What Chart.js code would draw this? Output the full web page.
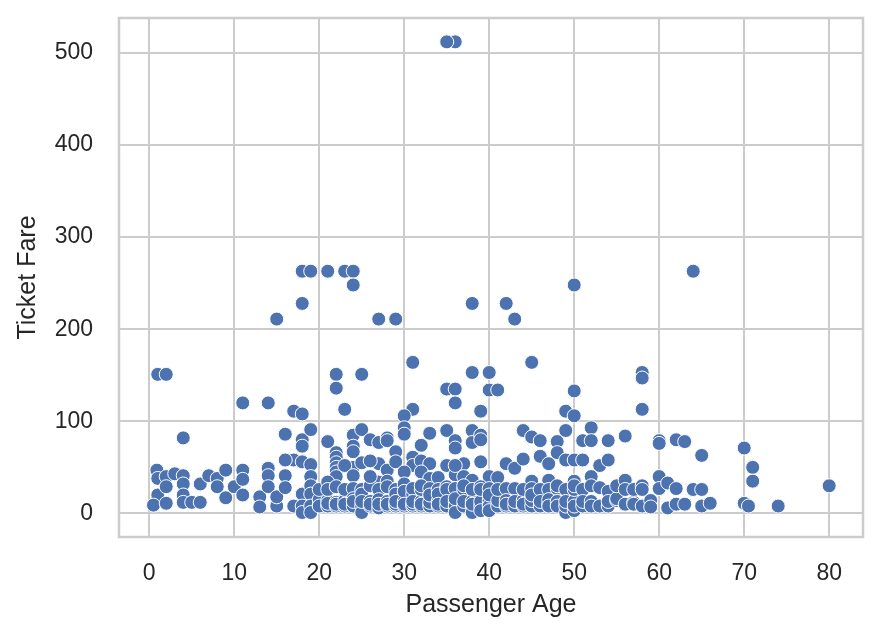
<!DOCTYPE html>
<html>
<head>
<meta charset="utf-8">
<script src="https://cdn.jsdelivr.net/npm/chart.js@4.4.0/dist/chart.umd.min.js"></script>
<style>
	html, body { margin: 0; padding: 0; background: #ffffff; }
	#wrap { width: 882px; height: 638px; }
</style>
</head>
<body>
<div id="wrap"><canvas id="myChart" width="882" height="638"></canvas></div>
<script>
// passenger age / ticket fare (one line per group)
var ages = [
	35, 36, 35, 18, 19, 21, 23, 24, 64, 24, 50, 18, 38, 42, 15, 27, 29, 43,
	1, 2, 22, 25, 31, 45, 38, 40, 58, 58, 22, 35, 36, 40, 41, 50,
	11, 14, 36, 39, 49, 58, 17, 18, 23, 31, 30, 50,
	4, 16, 18, 18, 17, 16, 18, 19, 19, 21,
	22, 22, 22, 22, 22, 22, 24, 24, 24, 24,
	25, 26, 27, 27, 28, 28, 29, 30, 30, 31,
	31, 32, 32, 33, 33, 35, 35, 36, 36, 36,
	37, 38, 38, 39, 39, 39, 40, 42, 43, 44,
	44, 45, 46, 46, 47, 48, 48, 49, 49, 50,
	51, 51, 52, 52, 53, 54, 54, 56, 60, 60,
	62, 63, 65, 70, 71, 28, 29,
	23, 24, 25, 26, 27, 28, 30, 32, 33, 34,
	36, 37, 38, 41, 45, 47, 50, 52,
	0.9, 1, 2, 1, 0.5, 2, 2, 3, 4, 4,
	4, 4, 5, 6, 6, 7, 8, 8, 9, 9,
	10, 11, 11, 11, 13, 13, 14, 14, 14, 15,
	15, 16, 16, 17, 18, 18, 18,
	19, 19, 19, 19, 19,
	20, 20, 20, 20,
	21, 21, 21, 21, 21,
	22, 22, 22, 22,
	23, 23, 23, 23,
	24, 24, 24, 24,
	25, 25, 25, 25, 25,
	26, 26, 26, 26, 26,
	27, 27, 27, 27,
	28, 28, 28, 28,
	29, 29, 29, 29, 29,
	30, 30, 30, 30, 30,
	31, 31, 31, 31, 31,
	32, 32, 32, 32, 32,
	33, 33, 33, 33,
	34, 34, 34, 34, 34,
	35, 35, 35, 35,
	36, 36, 36, 36, 36,
	37, 37, 37, 37,
	38, 38, 38, 38, 38,
	39, 39, 39, 39, 39,
	40, 40, 40, 40, 40,
	41, 41, 41,
	42, 42, 42, 42,
	43, 43, 43,
	44, 44, 44, 44,
	45, 45, 45, 45,
	46, 46, 46,
	47, 47, 47, 47,
	48, 48, 48, 48,
	49, 49, 49, 49,
	50, 50, 50, 50, 50,
	51, 51, 51,
	52, 52, 52,
	53, 53,
	54, 54, 54,
	55, 55, 55,
	56, 56, 56,
	57, 57, 57,
	58, 58, 58,
	59, 59,
	60, 60,
	61, 61,
	62, 62,
	63, 64, 65, 65, 66,
	70, 70.5, 71, 74, 80
];
var fares = [
	512, 512, 512, 263, 263, 263, 263, 263, 263, 248, 248, 228, 228, 228, 211, 211, 211, 211,
	151, 151, 151, 151, 164, 164, 153, 153, 153, 147, 136, 135, 135, 134, 134, 133,
	120, 120, 120, 111, 111, 113, 111, 108, 113, 113, 106, 106,
	82, 86, 80, 73, 58, 58, 56, 91, 53, 78,
	66, 61, 55, 50, 45, 40, 85, 73, 67, 50,
	91, 80, 77, 54, 82, 47, 67, 93, 86, 61,
	52, 74, 57, 87, 54, 90, 52, 79, 71, 42,
	54, 90, 77, 85, 80, 56, 40, 54, 49, 90,
	59, 83, 79, 62, 54, 78, 66, 90, 58, 58,
	79, 58, 93, 79, 52, 79, 58, 84, 79, 76,
	80, 78, 63, 71, 50, 79, 56,
	52, 41, 55, 57, 34, 35, 45, 45, 38, 39,
	52, 40, 36, 39, 35, 36, 35, 40,
	47, 38, 40, 20, 9, 11, 29, 43, 41, 32,
	20, 12, 12, 12, 32, 41, 38, 29, 47, 17,
	29, 47, 37, 20, 18, 7, 49, 41, 29, 8,
	18, 41, 28, 8, 21, 8, 1,
	40, 30, 21, 8, 1,
	9, 15, 8, 26,
	34, 14, 8, 26, 11,
	8, 12, 29, 10,
	14, 8, 26, 10,
	8, 27, 16, 13,
	8, 1, 26, 21, 13,
	30, 40, 8, 13, 10,
	26, 15, 6, 10,
	29, 8, 13, 10,
	8, 26, 21, 10, 13,
	32, 8, 13, 24, 10,
	21, 8, 27, 10, 13,
	8, 13, 26, 30, 10,
	8, 27, 12, 20,
	13, 8, 26, 21, 10,
	29, 8, 26, 13,
	13, 8, 27, 1, 16,
	8, 26, 13, 30,
	8, 1, 13, 26, 10,
	29, 8, 13, 3, 26,
	27, 14, 8, 3, 20,
	8, 14, 26,
	27, 14, 8, 10,
	8, 27, 13,
	14, 8, 26, 10,
	27, 8, 14, 20,
	8, 26, 13,
	10, 26, 15, 8,
	27, 13, 8, 30,
	1, 26, 8, 13,
	3, 13, 26, 8, 30,
	26, 8, 13,
	30, 13, 8,
	28, 8,
	24, 8, 13,
	14, 16, 30,
	36, 26, 10,
	12, 10, 26,
	30, 8, 26,
	14, 7,
	40, 27,
	33, 6,
	27, 10,
	10, 26, 26, 8, 11,
	11, 8, 35, 8, 30
];
var xTicks = [0, 10, 20, 30, 40, 50, 60, 70, 80];
var yTicks = [0, 100, 200, 300, 400, 500];

var points = [];
for (var i = 0; i < ages.length; i++) {
	points.push({ x : ages[i], y : fares[i] });
}

var fontFam = "'Liberation Sans', Arial, sans-serif";
var textCol = '#262626';
var gridCol = '#cccccc';

// seaborn whitegrid draws a light box round the axes
var boxPlugin = {
	id : 'box',
	beforeDatasetsDraw : function(chart) {
		var a = chart.chartArea;
		var ctx = chart.ctx;
		ctx.save();
		ctx.strokeStyle = gridCol;
		ctx.lineWidth = 2.5;
		ctx.strokeRect(a.left, a.top, a.right - a.left, a.bottom - a.top);
		ctx.restore();
	}
};

// fixed axis sizes so the plot box lands where the reference has it
function fixX(scale) {
	scale.height = 101;
	scale.paddingLeft = 0;
	scale.paddingRight = 0;
}
function fixY(scale) {
	scale.width = 119;
	scale.paddingTop = 0;
	scale.paddingBottom = 0;
}

var ctx = document.getElementById("myChart").getContext('2d');
var myChart = new Chart(ctx, {
	type : 'scatter',
	data : {
		datasets : [ {
			data : points,
			backgroundColor : '#4c72b0',
			borderColor : '#ffffff',
			borderWidth : 1,
			pointRadius : 7,
			pointHoverRadius : 7
		} ]
	},
	options : {
		responsive : false,
		animation : false,
		events : [],
		layout : {
			padding : { left : 0, right : 19, top : 18, bottom : 0 }
		},
		plugins : {
			legend : { display : false },
			tooltip : { enabled : false }
		},
		scales : {
			x : {
				type : 'linear',
				min : -3.559,
				max : 83.979,
				afterBuildTicks : function(scale) {
					scale.ticks = xTicks.map(function(v) { return { value : v }; });
				},
				afterFit : fixX,
				grid : { color : gridCol, lineWidth : 2, drawTicks : false },
				border : { display : false },
				ticks : {
					color : textCol,
					font : { family : fontFam, size : 23 },
					padding : 23,
					maxRotation : 0,
					autoSkip : false
				},
				title : {
					display : true,
					text : 'Passenger Age',
					color : textCol,
					font : { family : fontFam, size : 25 },
					padding : { top : 0, bottom : 18 }
				}
			},
			y : {
				type : 'linear',
				min : -25.6,
				max : 537.9,
				afterBuildTicks : function(scale) {
					scale.ticks = yTicks.map(function(v) { return { value : v }; });
				},
				afterFit : fixY,
				grid : { color : gridCol, lineWidth : 2, drawTicks : false },
				border : { display : false },
				ticks : {
					color : textCol,
					font : { family : fontFam, size : 23 },
					padding : 26,
					autoSkip : false
				},
				title : {
					display : true,
					text : 'Ticket Fare',
					color : textCol,
					font : { family : fontFam, size : 25 },
					padding : { top : 13, bottom : 0 }
				}
			}
		}
	},
	plugins : [ boxPlugin ]
});
</script>
</body>
</html>
